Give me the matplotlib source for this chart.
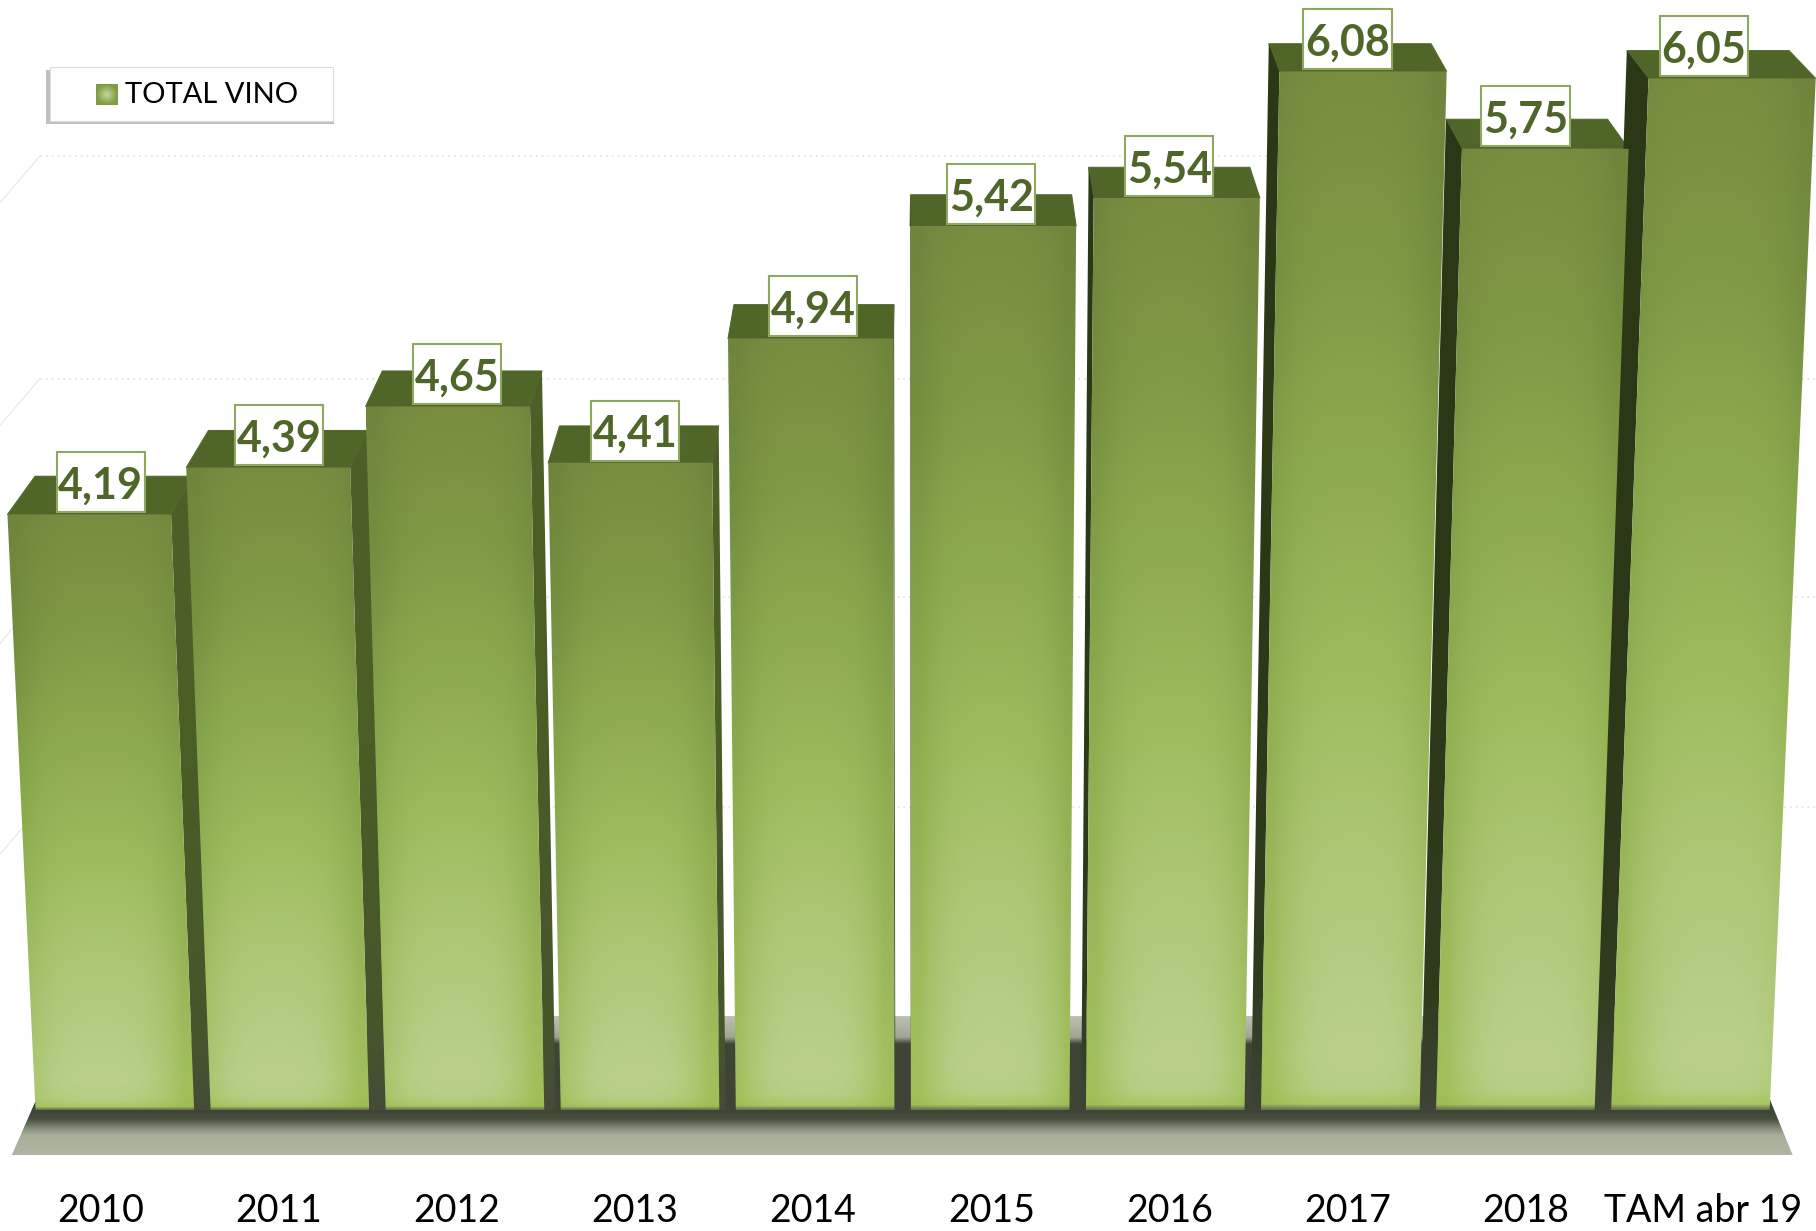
# 3D looking bar chart of TOTAL VINO, faked with polygons and gradients
import numpy as np
import matplotlib
matplotlib.use('Agg')
import matplotlib.pyplot as plt
from matplotlib.colors import to_rgb
from matplotlib.patches import Polygon, Rectangle

# the data
categories = ['2010', '2011', '2012', '2013', '2014', '2015', '2016', '2017', '2018', 'TAM abr 19']
values = [4.19, 4.39, 4.65, 4.41, 4.94, 5.42, 5.54, 6.08, 5.75, 6.05]
value_labels = ['4,19', '4,39', '4,65', '4,41', '4,94', '5,42', '5,54', '6,08', '5,75', '6,05']
grid_levels = [5.72, 4.77, 3.84, 2.94]
legend_name = 'TOTAL VINO'

# perspective settings, in data units
VX = 4.636       # vanishing point
BASE = 1.649     # where the bars stand
FLOOR_FRONT = 1.457
FLOOR_BACK = 2.05
HALF = 0.453
DEPTH = 0.03

W, H = 1816, 1231
XMIN, XMAX = -0.566, 9.631
YMIN, YMAX = 1.133, 6.385


def hexes(cols):
    return np.array([to_rgb(c) for c in cols])


def px(x):
    return XMIN + (XMAX - XMIN) * x / W


def py(y):
    return YMAX - (YMAX - YMIN) * y / H


def project(x, v, back=False):
    s = 0.983 * (1 + 0.0124 * (v - BASE))
    if back:
        s = s * (1 - DEPTH)
    return VX + (x - VX) * s


def back_y(v):
    return v + 0.163 - 0.0236 * (v - 4.19)


def grad_poly(verts, img, zorder):
    xs = [p[0] for p in verts]
    ys = [p[1] for p in verts]
    im = ax.imshow(img, extent=[min(xs), max(xs), min(ys), max(ys)], origin='lower',
                   aspect='auto', zorder=zorder, interpolation='bilinear')
    im.set_clip_path(Polygon(verts, transform=ax.transData))


def vertical(stops, cols, n=300):
    t = np.linspace(0, 1, n)
    c = hexes(cols)
    return np.stack([np.interp(t, stops, c[:, k]) for k in range(3)], axis=1)[:, None, :]


fig = plt.figure(figsize=(W / 100, H / 100), dpi=100)
ax = fig.add_axes([0, 0, 1, 1])
plt.rcParams['font.family'] = ['Lato', 'DejaVu Sans']

# back wall grid
for g in grid_levels:
    x0 = px(40)
    ax.plot([x0, XMAX], [g, g], color='#e2e2e2', lw=1.2, ls=(0, (1, 2.5)), zorder=1)
    ax.plot([x0, px(0)], [g, g - 0.2], color='#ebebeb', lw=1.0, zorder=1)

# floor
floor = [(-0.5, FLOOR_FRONT), (9.5, FLOOR_FRONT), (9.18, FLOOR_BACK), (-0.156, FLOOR_BACK)]
floor_stops = [0, 0.14, 0.20, 0.26, 0.32, 0.80, 0.85, 1]
floor_cols = ['#adb6a0', '#a8b09a', '#7d8470', '#474e3c', '#3e4436', '#3e4436', '#a0a593', '#bcc1b2']
grad_poly(floor, vertical(floor_stops, floor_cols), 2)

# sides and tops of the bars go first, fronts on top of them
stop_t = [0, 0.005, 0.018, 0.05, 0.2, 0.4, 0.6, 0.8, 1]
centre = hexes(['#6a7650', '#aac864', '#b6ce84', '#bad08c', '#b0ca7c', '#9fbe60', '#8fad50', '#809a46', '#788d40'])
edge = hexes(['#6a7650', '#9cbc54', '#a0bf58', '#a0bf5c', '#9ab85a', '#8fae50', '#82a048', '#748d3f', '#6f853c'])

for i, v in enumerate(values):
    l, r = i - HALF, i + HALF
    bv = back_y(v)
    top = [(project(l, v), v), (project(r, v), v),
           (project(r, v, True), bv), (project(l, v, True), bv)]
    ax.add_patch(Polygon(top, closed=True, fc='#506628', ec='#556b2c', lw=0.8, zorder=3))

    # only the side that faces the vanishing point can be seen
    if i < VX:
        side = [(project(r, BASE), BASE), (project(r, v), v),
                (project(r, v, True), bv), (project(r, BASE, True), BASE)]
        cols = ['#444b38', '#46562c', '#4a5e26', '#4c6027']
    else:
        side = [(project(l, BASE), BASE), (project(l, v), v),
                (project(l, v, True), bv), (project(l, BASE, True), BASE)]
        cols = ['#3e4436', '#2f3b1d', '#2b3816', '#2c3916']
    grad_poly(side, vertical([0, 0.12, 0.6, 1], cols), 4)

for i, v in enumerate(values):
    l, r = i - HALF, i + HALF
    front = [(project(l, BASE), BASE), (project(r, BASE), BASE),
             (project(r, v), v), (project(l, v), v)]
    t = np.linspace(0, 1, 600)
    u = np.abs(np.linspace(-1, 1, 40))
    w = np.clip(u * 1.1, 0, 1) ** 3
    cen = np.stack([np.interp(t, stop_t, centre[:, k]) for k in range(3)], axis=1)
    edg = np.stack([np.interp(t, stop_t, edge[:, k]) for k in range(3)], axis=1)
    img = cen[:, None, :] * (1 - w[None, :, None]) + edg[:, None, :] * w[None, :, None]
    grad_poly(front, img, 5)

# value boxes
for i, v in enumerate(values):
    yc = v + 0.138
    ax.add_patch(Rectangle((i - 0.2475, yc - 0.128), 0.495, 0.256, fc='white',
                           ec='#8fa860', lw=1.5, zorder=6))
    ax.text(i, yc, value_labels[i], ha='center', va='center_baseline', fontsize=31,
            fontweight='bold', color='#4f6628', zorder=7)

# category labels
for i, c in enumerate(categories):
    ax.text(i, py(1211), c, ha='center', va='center', fontsize=27, color='black', zorder=7)

# legend
ax.add_patch(Rectangle((px(46), py(124)), px(334) - px(46), py(70) - py(124), fc='#c0c0c0',
                       ec='none', zorder=6))
ax.add_patch(Rectangle((px(50), py(121)), px(333) - px(50), py(67) - py(121), fc='white',
                       ec='#dddddd', lw=0.8, zorder=7))
uu, vv = np.meshgrid(np.linspace(-1, 1, 24), np.linspace(-1, 1, 24))
rr = np.clip(np.sqrt(uu ** 2 + vv ** 2), 0, 1)[:, :, None]
swatch = hexes(['#c4d89c'])[0] * (1 - rr) + hexes(['#7f9c42'])[0] * rr
ax.imshow(swatch, extent=[px(96), px(117), py(105), py(84)], origin='lower', aspect='auto',
          zorder=8, interpolation='bilinear')
ax.text(px(125), py(95), legend_name, ha='left', va='center', fontsize=21, color='black', zorder=8)

ax.set_xlim(XMIN, XMAX)
ax.set_ylim(YMIN, YMAX)
ax.axis('off')

fig.savefig('out.png', dpi=100, facecolor='white')
